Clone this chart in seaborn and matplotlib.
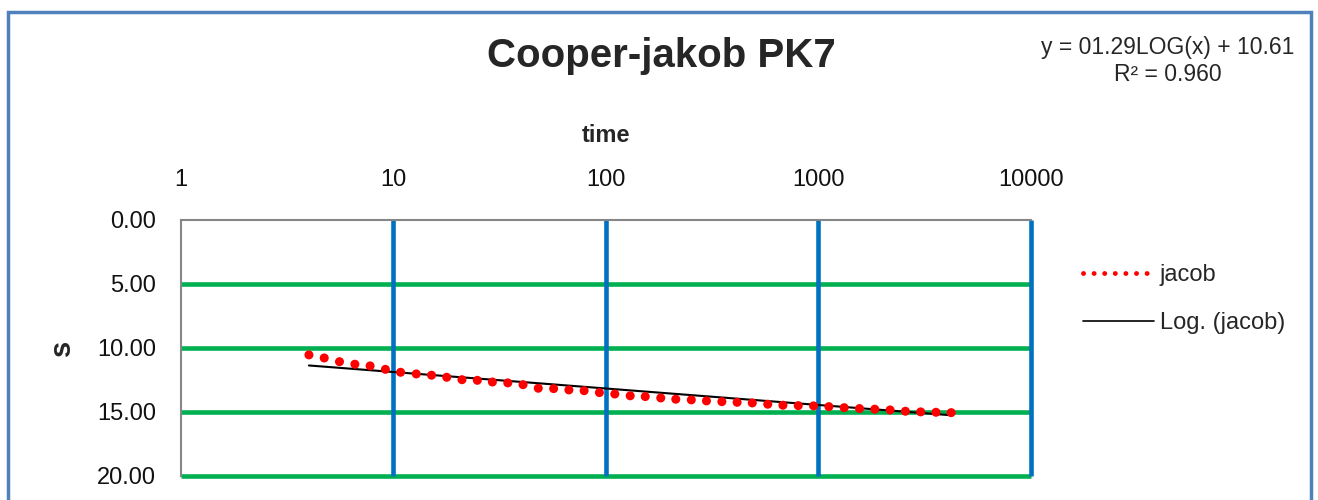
import matplotlib
matplotlib.use("Agg")
import matplotlib.pyplot as plt
from matplotlib import font_manager
from matplotlib.lines import Line2D
from matplotlib.patches import Rectangle
import numpy as np
import pandas as pd
import seaborn as sns

# donnees (temps en echelle log, rabattement s)
time = [4.0, 4.72, 5.57, 6.58, 7.76, 9.16, 10.8, 12.8, 15.1, 17.8, 21.0, 24.8,
        29.2, 34.5, 40.7, 48.0, 56.7, 66.9, 78.9, 93.1, 110, 130, 153, 181,
        213, 252, 297, 351, 414, 488, 577, 680, 803, 948, 1119, 1321, 1559,
        1840, 2172, 2564, 3026, 3571, 4210]
s = [10.56, 10.80, 11.09, 11.29, 11.42, 11.69, 11.92, 12.05, 12.15, 12.31,
     12.50, 12.55, 12.68, 12.75, 12.89, 13.17, 13.20, 13.30, 13.36, 13.51,
     13.62, 13.76, 13.82, 13.93, 14.03, 14.08, 14.16, 14.22, 14.27, 14.32,
     14.42, 14.50, 14.53, 14.55, 14.61, 14.69, 14.76, 14.81, 14.87, 14.97,
     15.02, 15.05, 15.08]

# courbe de tendance (affichee par Excel)
slope = 1.29
intercept = 10.61
r2 = 0.960

xticks = [1, 10, 100, 1000, 10000]
yticks = [0, 5, 10, 15, 20]

sns.set_style("white")
installed = set(f.name for f in font_manager.fontManager.ttflist)
narrow = "Liberation Sans Narrow" if "Liberation Sans Narrow" in installed else "Liberation Sans"
plt.rcParams['font.family'] = [narrow, 'DejaVu Sans']

df = pd.DataFrame({"time": time, "s": s})
df_fit = pd.DataFrame({"time": time})
df_fit["s"] = slope * np.log10(df_fit["time"]) + intercept

fig = plt.figure(figsize=(13.18, 5.0), dpi=100)
ax = fig.add_axes([181 / 1318, 1 - 475.5 / 500, 850 / 1318, 255.5 / 500])

# quadrillage (vert horizontal, bleu vertical)
for yv in yticks[1:]:
    ax.axhline(yv, color="#00B050", lw=3.3, zorder=1, solid_capstyle="butt", clip_on=False)
for xv in xticks[1:]:
    ax.axvline(xv, color="#0070C0", lw=3.3, zorder=2, solid_capstyle="butt", clip_on=False)

sns.lineplot(data=df_fit, x="time", y="s", color="black", lw=1.5, ax=ax, zorder=3)
sns.scatterplot(data=df, x="time", y="s", color="red", s=42, edgecolor="none", ax=ax, zorder=4)

ax.set_xscale("log")
ax.set_xlim(1, 10000)
ax.set_ylim(20, 0)
ax.set_xticks(xticks)
ax.set_xticklabels([str(t) for t in xticks])
ax.set_yticks(yticks)
ax.set_yticklabels(["%.2f" % t for t in yticks])
ax.minorticks_off()
ax.xaxis.tick_top()
ax.xaxis.set_label_position("top")
ax.tick_params(axis="x", length=0, pad=21, labelsize=17, colors="#111111")
ax.tick_params(axis="y", length=0, pad=18, labelsize=17, colors="#111111")
ax.set_xlabel("time", fontsize=17, fontweight="bold", labelpad=19)
ax.set_ylabel("s", fontsize=21, fontweight="bold", labelpad=15)

for side in ["right", "bottom"]:
    ax.spines[side].set_visible(False)
for side in ["left", "top"]:
    ax.spines[side].set_color("#868686")
    ax.spines[side].set_linewidth(1.5)

fig.text(661 / 1318, 1 - 56 / 500, "Cooper-jakob PK7", fontsize=29, fontweight="bold",
         ha="center", va="center")
fig.text(1168 / 1318, 1 - 61 / 500,
         "y = 0%.2fLOG(x) + %.2f\nR² = %.3f" % (slope, intercept, r2),
         fontsize=16.5, ha="center", va="center", multialignment="center", linespacing=1.25)

handles = [Line2D([0], [0], color="red", lw=3.5, linestyle=(0, (0.01, 2.17)), dash_capstyle="round"),
           Line2D([0], [0], color="black", lw=1.2)]
fig.legend(handles, ["jacob", "Log. (jacob)"], loc="upper left",
           bbox_to_anchor=(1062 / 1318, 1 - 243 / 500), frameon=False, fontsize=17,
           handlelength=3.0, handletextpad=0.25, labelspacing=1.1)

# cadre bleu autour du graphique
fig.patches.append(Rectangle((8 / 1318, -0.05), 1303 / 1318, 1.05 - 12 / 500,
                             transform=fig.transFigure, fill=False,
                             edgecolor="#4F81BD", lw=2.5, zorder=10))

fig.savefig("out.png", dpi=100, facecolor="white")
